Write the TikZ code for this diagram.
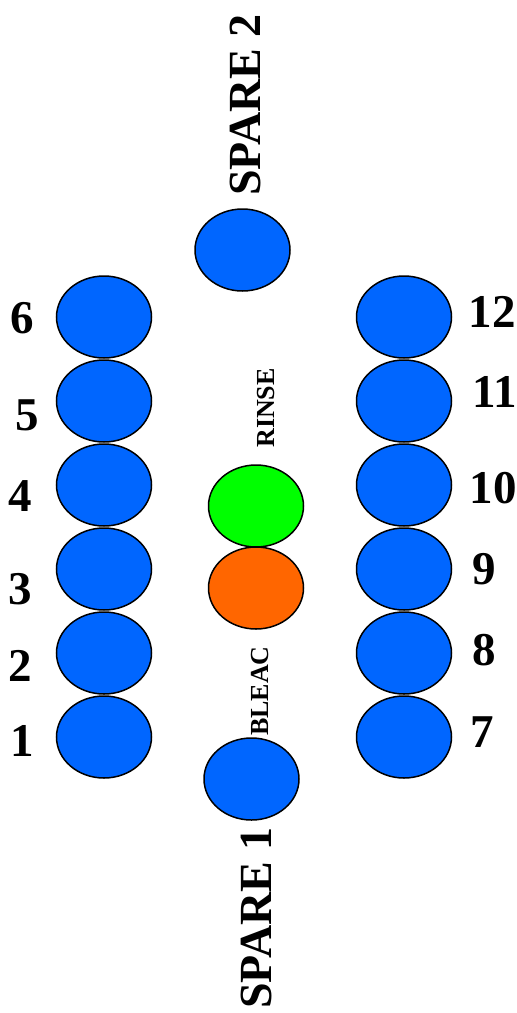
\documentclass[tikz,border=0pt]{standalone}
\usepackage{fontspec}
\setmainfont{Liberation Serif}
\usetikzlibrary{shapes.geometric}
\definecolor{wellblue}{RGB}{0,102,255}
\definecolor{wellgreen}{RGB}{0,255,0}
\definecolor{wellorange}{RGB}{255,102,0}
\tikzset{
  well/.style={ellipse, draw=black, line width=1.5pt, minimum width=95pt, minimum height=82pt, inner sep=0pt, fill=wellblue},
  numlabel/.style={inner sep=0pt, font=\fontsize{47}{47}\selectfont\bfseries},
  sparelabel/.style={inner sep=0pt, rotate=90, font=\fontsize{46}{46}\selectfont\bfseries},
  smalllabel/.style={inner sep=0pt, rotate=90, font=\fontsize{26}{26}\selectfont\bfseries}
}
\begin{document}
\begin{tikzpicture}[x=1pt,y=-1pt]
\useasboundingbox (0,0) rectangle (517,1013);
% left column
\node[well] (w1) at (104,737) {};
\node[well] (w2) at (104,653) {};
\node[well] (w3) at (104,569) {};
\node[well] (w4) at (104,485) {};
\node[well] (w5) at (104,401) {};
\node[well] (w6) at (104,317) {};
% right column
\node[well] (w7) at (404,737) {};
\node[well] (w8) at (404,653) {};
\node[well] (w9) at (404,569) {};
\node[well] (w10) at (404,485) {};
\node[well] (w11) at (404,401) {};
\node[well] (w12) at (404,317) {};
% centre
\node[well] (sp2) at (242.5,250) {};
\node[well, fill=wellgreen] (rinse) at (256,506) {};
\node[well, fill=wellorange] (bleach) at (256,588) {};
\node[well] (sp1) at (251.5,779) {};
% labels
\node[numlabel] (l1) at (22,741) {1};
\node[numlabel] (l2) at (20,666) {2};
\node[numlabel] (l3) at (20,589) {3};
\node[numlabel] (l4) at (20,496) {4};
\node[numlabel] (l5) at (27,415) {5};
\node[numlabel] (l6) at (22,318) {6};
\node[numlabel] (l7) at (482,732) {7};
\node[numlabel] (l8) at (484,650) {8};
\node[numlabel] (l9) at (484,569) {9};
\node[numlabel] (l10) at (493,488) {10};
\node[numlabel] (l11) at (495,392) {11};
\node[numlabel] (l12) at (492,312) {12};
\node[sparelabel] (t2) at (245,105) {SPARE 2};
\node[sparelabel] (t1) at (256,918) {SPARE 1};
\node[smalllabel] (tr) at (266,408) {RINSE};
\node[smalllabel] (tb) at (260,691) {BLEAC};
\end{tikzpicture}
\end{document}
